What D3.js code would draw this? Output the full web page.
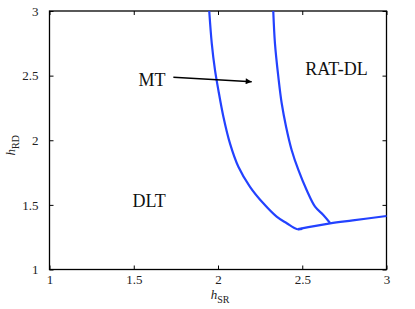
<!DOCTYPE html>
<html>
<head>
<meta charset="utf-8">
<script src="https://cdn.jsdelivr.net/npm/d3@7"></script>
<style>
  body { margin: 0; background: #fff; }
  text { font-family: "Liberation Serif", "Times New Roman", serif; }
</style>
</head>
<body>
<script>
// boundary between DLT and MT regions
var mtBoundary = [
	{ x: 1.948, y: 3.0 }, { x: 1.963, y: 2.75 }, { x: 1.982, y: 2.544 }, { x: 2.002, y: 2.389 },
	{ x: 2.032, y: 2.182 }, { x: 2.071, y: 1.976 }, { x: 2.121, y: 1.795 }, { x: 2.19, y: 1.64 },
	{ x: 2.269, y: 1.512 }, { x: 2.348, y: 1.409 }, { x: 2.408, y: 1.358 }, { x: 2.467, y: 1.313 },
	{ x: 2.50, y: 1.314 }
];
// lower boundary of DLT region
var dltBoundary = [
	{ x: 2.475, y: 1.312 }, { x: 2.665, y: 1.357 }, { x: 2.8, y: 1.38 }, { x: 3.0, y: 1.414 }
];
// boundary between MT and RAT-DL
var ratBoundary = [
	{ x: 2.328, y: 3.0 }, { x: 2.338, y: 2.75 }, { x: 2.358, y: 2.492 }, { x: 2.378, y: 2.286 },
	{ x: 2.404, y: 2.105 }, { x: 2.437, y: 1.925 }, { x: 2.477, y: 1.77 }, { x: 2.526, y: 1.615 },
	{ x: 2.576, y: 1.486 }, { x: 2.625, y: 1.422 }, { x: 2.665, y: 1.36 }
];
var xTicks = [1, 1.5, 2, 2.5, 3];
var yTicks = [1, 1.5, 2, 2.5, 3];
var regionLabels = [
	{ text: 'MT', x: 1.608, y: 2.42 },
	{ text: 'RAT-DL', x: 2.703, y: 2.505 },
	{ text: 'DLT', x: 1.591, y: 1.481 }
];
var arrow = { x1: 1.735, y1: 2.487, x2: 2.2, y2: 2.453 };

const margin = { top: 11, right: 28.5, bottom: 39.5, left: 49.5 };
const width = 415 - margin.left - margin.right;
const height = 309 - margin.top - margin.bottom;

const xScale = d3.scaleLinear().domain([1, 3]).range([0, width]);
const yScale = d3.scaleLinear().domain([1, 3]).range([height, 0]);

const svg = d3.select("body").append("svg")
	.attr("width", 415)
	.attr("height", 309)
	.append("g")
	.attr("transform", "translate(" + margin.left + "," + margin.top + ")");

svg.append("defs").append("marker")
	.attr("id", "head")
	.attr("viewBox", "0 0 10 10")
	.attr("refX", 10).attr("refY", 5)
	.attr("markerWidth", 10).attr("markerHeight", 6)
	.attr("markerUnits", "userSpaceOnUse")
	.attr("orient", "auto")
	.append("path")
	.attr("d", "M0,0L10,5L0,10Z")
	.attr("fill", "#000");

// MATLAB style box axes, ticks inward
const tickLen = 4;
function styleAxis(g) {
	g.attr("font-family", null);
	g.select(".domain").remove();
	g.selectAll(".tick line").attr("stroke", "#000");
	g.selectAll(".tick text").attr("fill", "#222").style("font-size", "13px");
}
svg.append("g")
	.attr("transform", "translate(0," + height + ")")
	.call(d3.axisBottom(xScale).tickValues(xTicks).tickFormat(d3.format("")).tickSizeInner(-tickLen).tickPadding(5))
	.call(styleAxis);
svg.append("g")
	.call(d3.axisTop(xScale).tickValues(xTicks).tickFormat("").tickSizeInner(-tickLen))
	.call(styleAxis);
svg.append("g")
	.call(d3.axisLeft(yScale).tickValues(yTicks).tickFormat(d3.format("")).tickSizeInner(-tickLen).tickPadding(11))
	.call(styleAxis);
svg.append("g")
	.attr("transform", "translate(" + width + ",0)")
	.call(d3.axisRight(yScale).tickValues(yTicks).tickFormat("").tickSizeInner(-tickLen))
	.call(styleAxis);

svg.append("rect")
	.attr("width", width).attr("height", height)
	.attr("fill", "none").attr("stroke", "#000").attr("stroke-width", 1.3);

const line = d3.line()
	.curve(d3.curveCatmullRom)
	.x(function (d) { return xScale(d.x); })
	.y(function (d) { return yScale(d.y); });

svg.selectAll(".boundary")
	.data([mtBoundary, dltBoundary, ratBoundary])
	.enter()
	.append("path")
	.attr("class", "boundary")
	.attr("d", line)
	.attr("fill", "none")
	.attr("stroke", "#2342ff")
	.attr("stroke-width", 2.2)
	.attr("stroke-linejoin", "round");

svg.append("line")
	.attr("x1", xScale(arrow.x1)).attr("y1", yScale(arrow.y1))
	.attr("x2", xScale(arrow.x2)).attr("y2", yScale(arrow.y2))
	.attr("stroke", "#000").attr("stroke-width", 1.5)
	.attr("marker-end", "url(#head)");

svg.selectAll(".region")
	.data(regionLabels)
	.enter()
	.append("text")
	.attr("class", "region")
	.attr("x", function (d) { return xScale(d.x); })
	.attr("y", function (d) { return yScale(d.y); })
	.attr("text-anchor", "middle")
	.style("font-size", "18px")
	.attr("fill", "#111")
	.text(function (d) { return d.text; });

// axis labels
const xl = svg.append("text")
	.attr("x", width / 2 + 2)
	.attr("y", height + 29)
	.attr("text-anchor", "middle")
	.style("font-size", "13px")
	.attr("fill", "#222");
xl.append("tspan").style("font-style", "italic").text("h");
xl.append("tspan").attr("dy", 4).style("font-size", "10px").text("SR");

const yl = svg.append("text")
	.attr("transform", "translate(" + (-35) + "," + (height / 2 + 5) + ") rotate(-90)")
	.attr("text-anchor", "middle")
	.style("font-size", "13px")
	.attr("fill", "#222");
yl.append("tspan").style("font-style", "italic").text("h");
yl.append("tspan").attr("dy", 4).style("font-size", "10px").text("RD");
</script>
</body>
</html>
